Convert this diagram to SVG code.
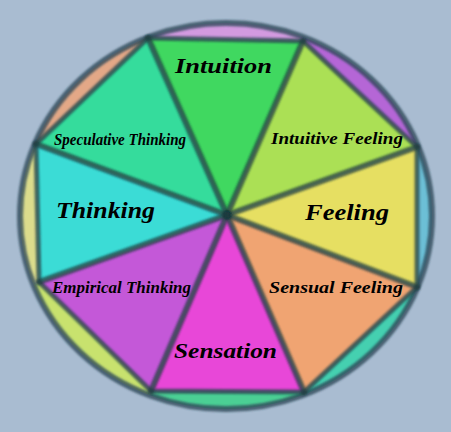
<svg xmlns="http://www.w3.org/2000/svg" width="451" height="432" viewBox="0 0 451 432">
<style>
.bg{fill:#a9bcd1}
.seg{stroke:none;filter:url(#soft)}
.edge{fill:none;stroke:#24404a;stroke-opacity:0.75;stroke-width:5;stroke-linejoin:round;filter:url(#soft)}
.rim{fill:none;stroke:#2e4a5a;stroke-opacity:0.8;stroke-width:6;filter:url(#soft)}
.spoke{stroke:#1c3a3e;stroke-opacity:0.72;stroke-width:6;stroke-linecap:round;filter:url(#soft)}
.lbl{font-family:"Liberation Serif","DejaVu Serif",serif;font-style:italic;font-weight:bold;fill:#000;text-anchor:start}
</style>
<defs>
<filter id="soft" x="-10%" y="-10%" width="120%" height="120%"><feGaussianBlur stdDeviation="1.1"/></filter>
<clipPath id="ell"><ellipse cx="226" cy="216" rx="206" ry="193"/></clipPath>
</defs>
<rect class="bg" x="0" y="0" width="451" height="432"/>
<g id="rim-wedges" clip-path="url(#ell)">
<polygon class="seg" fill="#d39ae0" points="227,215 69,-139 379,-133"/>
<polygon class="seg" fill="#b566d6" points="227,215 379,-133 607,79"/>
<polygon class="seg" fill="#6cbfd6" points="227,215 607,79 607,359"/>
<polygon class="seg" fill="#44d0b0" points="227,215 607,359 381,569"/>
<polygon class="seg" fill="#4ccf94" points="227,215 381,569 75,567"/>
<polygon class="seg" fill="#c8e26e" points="227,215 75,567 -149,349"/>
<polygon class="seg" fill="#dcdc8c" points="227,215 -149,349 -155,73"/>
<polygon class="seg" fill="#e3a887" points="227,215 -155,73 69,-139"/>
</g>
<ellipse class="rim" cx="226" cy="216" rx="206" ry="193"/>
<g id="node-intuition">
<polygon class="seg" fill="#40d860" points="227,215 148,38 303,41"/>
<text class="lbl" x="175" y="73" font-size="22" textLength="97" lengthAdjust="spacingAndGlyphs">Intuition</text>
</g>
<g id="node-intuitive-feeling">
<polygon class="seg" fill="#abe055" points="227,215 303,41 417,147"/>
<text class="lbl" x="271" y="144" font-size="16" textLength="132" lengthAdjust="spacingAndGlyphs">Intuitive Feeling</text>
</g>
<g id="node-feeling">
<polygon class="seg" fill="#e6df62" points="227,215 417,147 417,287"/>
<text class="lbl" x="305" y="220" font-size="24" textLength="84" lengthAdjust="spacingAndGlyphs">Feeling</text>
</g>
<g id="node-sensual-feeling">
<polygon class="seg" fill="#f0a472" points="227,215 417,287 304,392"/>
<text class="lbl" x="269" y="293" font-size="16" textLength="134" lengthAdjust="spacingAndGlyphs">Sensual Feeling</text>
</g>
<g id="node-sensation">
<polygon class="seg" fill="#e847d8" points="227,215 304,392 151,391"/>
<text class="lbl" x="174" y="358" font-size="22" textLength="103" lengthAdjust="spacingAndGlyphs">Sensation</text>
</g>
<g id="node-empirical-thinking">
<polygon class="seg" fill="#c458d8" points="227,215 151,391 39,282"/>
<text class="lbl" x="52" y="293" font-size="16" textLength="139" lengthAdjust="spacingAndGlyphs">Empirical Thinking</text>
</g>
<g id="node-thinking">
<polygon class="seg" fill="#3adcd6" points="227,215 39,282 36,144"/>
<text class="lbl" x="56" y="218" font-size="24" textLength="99" lengthAdjust="spacingAndGlyphs">Thinking</text>
</g>
<g id="node-speculative-thinking">
<polygon class="seg" fill="#34dc9c" points="227,215 36,144 148,38"/>
<text class="lbl" x="54" y="145" font-size="16" textLength="132" lengthAdjust="spacingAndGlyphs">Speculative Thinking</text>
</g>
<polygon class="edge" points="148,38 303,41 417,147 417,287 304,392 151,391 39,282 36,144"/>
<g id="connectors">
<line class="spoke" x1="227" y1="215" x2="148" y2="38"/>
<line class="spoke" x1="227" y1="215" x2="303" y2="41"/>
<line class="spoke" x1="227" y1="215" x2="417" y2="147"/>
<line class="spoke" x1="227" y1="215" x2="417" y2="287"/>
<line class="spoke" x1="227" y1="215" x2="304" y2="392"/>
<line class="spoke" x1="227" y1="215" x2="151" y2="391"/>
<line class="spoke" x1="227" y1="215" x2="39" y2="282"/>
<line class="spoke" x1="227" y1="215" x2="36" y2="144"/>
</g>
</svg>
